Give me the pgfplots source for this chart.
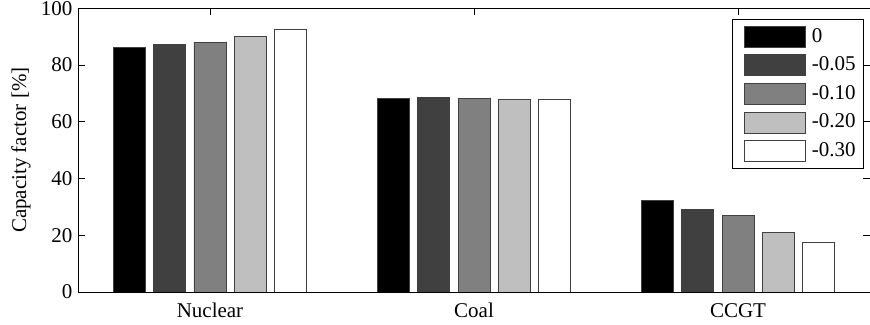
\documentclass[border=0pt]{standalone}
\usepackage{pgfplots}
\pgfplotsset{compat=1.18}
\usepackage{fontspec}
\setmainfont{Liberation Serif}
\definecolor{c1}{gray}{0}
\definecolor{c2}{gray}{0.25}
\definecolor{c3}{gray}{0.5}
\definecolor{c4}{gray}{0.75}
\definecolor{c5}{gray}{1}
\begin{document}
\fontsize{21bp}{25bp}\selectfont
\begin{tikzpicture}
\useasboundingbox (-78bp,-33bp) rectangle (792bp,292bp);
\begin{axis}[at={(0,0)}, anchor=south west, scale only axis,
  width=792bp, height=283.7bp,
  ybar=8.3bp, bar width=32bp,
  xmin=0.5, xmax=3.5, ymin=0, ymax=100,
  xtick={1,2,3}, xticklabels={Nuclear,Coal,CCGT},
  ytick={0,20,40,60,80,100},
  tick align=inside, major tick length=7bp,
  tick style={black, line width=0.6bp},
  axis line style={line width=0.8bp},
  /pgf/number format/assume math mode=true,
  xticklabel style={yshift=-4bp},
  yticklabel style={xshift=1.5bp},
  ylabel={Capacity factor [\%]},
  ylabel style={at={(axis description cs:-0.072,0.5)}, anchor=center},
  legend style={at={(rel axis cs:0.9924,0.9623)}, anchor=north east,
    draw=black, line width=0.6bp, inner xsep=8bp, inner ysep=6.5bp,
    row sep=7bp, column sep=6bp, nodes={inner sep=0pt}},
  legend cell align=left,
  legend image code/.code={\path (-4bp,0bp); \draw[#1, line width=0.6bp] (0bp,-10.5bp) rectangle (61bp,10.5bp);},
]
\addplot[fill=c1, draw=black!75, line width=0.6bp] coordinates {(1,86.2) (2,68.3) (3,32.3)};
\addplot[fill=c2, draw=black!75, line width=0.6bp] coordinates {(1,87.4) (2,68.7) (3,29.1)};
\addplot[fill=c3, draw=black!75, line width=0.6bp] coordinates {(1,87.9) (2,68.3) (3,26.9)};
\addplot[fill=c4, draw=black!75, line width=0.6bp] coordinates {(1,90.0) (2,67.8) (3,21.1)};
\addplot[fill=c5, draw=black!75, line width=0.6bp] coordinates {(1,92.5) (2,67.8) (3,17.5)};
\legend{0,-0.05,-0.10,-0.20,-0.30}
\end{axis}
\end{tikzpicture}
\end{document}
